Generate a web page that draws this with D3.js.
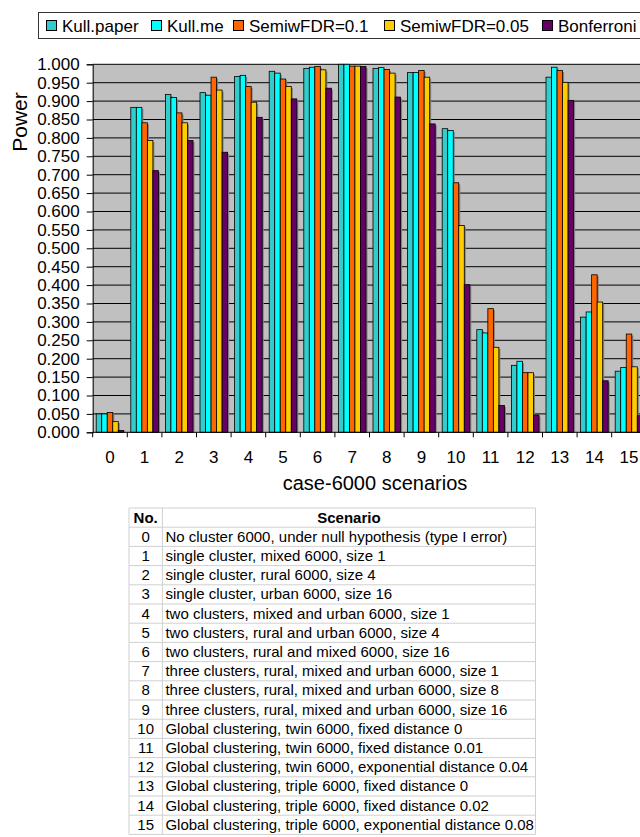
<!DOCTYPE html>
<html>
<head>
<meta charset="utf-8">
<script src="https://cdn.jsdelivr.net/npm/d3@7"></script>
<style>
  html, body { margin: 0; padding: 0; background: #fff; overflow: hidden; }
  svg { display: block; font-family: "Liberation Sans", Arial, sans-serif; }
</style>
</head>
<body>
<svg id="chart" width="640" height="837"></svg>
<script>
// ---------- data ----------
const categories = ["0","1","2","3","4","5","6","7","8","9","10","11","12","13","14","15"];
const seriesNames = ["Kull.paper", "Kull.me", "SemiwFDR=0.1", "SemiwFDR=0.05", "Bonferroni"];
const seriesColors = ["#33CCCC", "#00FFFF", "#FF6600", "#FFCC00", "#660066"];
const kullPaper = [0.050, 0.883, 0.918, 0.923, 0.967, 0.981, 0.989, 1.000, 0.989, 0.978, 0.825, 0.279, 0.182, 0.965, 0.313, 0.166];
const kullMe    = [0.050, 0.883, 0.910, 0.916, 0.970, 0.976, 0.992, 1.000, 0.991, 0.978, 0.820, 0.270, 0.193, 0.992, 0.327, 0.176];
const semiFdr10 = [0.054, 0.841, 0.868, 0.965, 0.940, 0.960, 0.994, 0.995, 0.986, 0.983, 0.678, 0.336, 0.162, 0.983, 0.428, 0.267];
const semiFdr05 = [0.029, 0.793, 0.841, 0.930, 0.897, 0.940, 0.985, 0.995, 0.976, 0.965, 0.562, 0.231, 0.162, 0.951, 0.354, 0.178];
const bonferroni= [0.005, 0.711, 0.793, 0.761, 0.856, 0.906, 0.935, 0.994, 0.911, 0.838, 0.401, 0.073, 0.047, 0.902, 0.140, 0.045];
const yTickValues = [0,0.05,0.1,0.15,0.2,0.25,0.3,0.35,0.4,0.45,0.5,0.55,0.6,0.65,0.7,0.75,0.8,0.85,0.9,0.95,1.0];
const yAxisTitle = "Power";
const xAxisTitle = "case-6000 scenarios";
const tableHeader = ["No.", "Scenario"];
const scenarioNumbers = categories;
const scenarioTexts = [
  "No cluster 6000, under null hypothesis (type I error)",
  "single cluster, mixed 6000, size 1",
  "single cluster, rural 6000, size 4",
  "single cluster, urban 6000, size 16",
  "two clusters, mixed and urban 6000, size 1",
  "two clusters, rural and urban 6000, size 4",
  "two clusters, rural and mixed 6000, size 16",
  "three clusters, rural, mixed and urban 6000, size 1",
  "three clusters, rural, mixed and urban 6000, size 8",
  "three clusters, rural, mixed and urban 6000, size 16",
  "Global clustering, twin 6000, fixed distance 0",
  "Global clustering, twin 6000, fixed distance 0.01",
  "Global clustering, twin 6000, exponential distance 0.04",
  "Global clustering, triple 6000, fixed distance 0",
  "Global clustering, triple 6000, fixed distance 0.02",
  "Global clustering, triple 6000, exponential distance 0.08"
];

const seriesValues = [kullPaper, kullMe, semiFdr10, semiFdr05, bonferroni];

// ---------- layout ----------
const svg = d3.select("#chart");
const plot = { left: 92.7, right: 646.3, top: 64.3, bottom: 432.3 };

const x0 = d3.scaleBand().domain(categories).range([plot.left, plot.right]).paddingInner(0).paddingOuter(0);
const x1 = d3.scaleBand().domain(seriesNames).range([3.5, x0.bandwidth() - 3.5]).padding(0);
const y = d3.scaleLinear().domain([0, 1]).range([plot.bottom, plot.top]);
const color = d3.scaleOrdinal().domain(seriesNames).range(seriesColors);

// plot background
svg.append("rect")
  .attr("x", plot.left).attr("y", plot.top)
  .attr("width", plot.right - plot.left).attr("height", plot.bottom - plot.top)
  .attr("fill", "#C0C0C0");

// gridlines
svg.append("g")
  .selectAll("line")
  .data(yTickValues.filter(v => v > 0))
  .join("line")
  .attr("x1", plot.left).attr("x2", plot.right)
  .attr("y1", d => y(d)).attr("y2", d => y(d))
  .attr("stroke", "#000").attr("stroke-width", 1);

// bars
const flat = [];
categories.forEach((c, i) => {
  seriesNames.forEach((s, j) => flat.push({ cat: c, series: s, value: seriesValues[j][i] }));
});

const barsG = svg.append("g");
// shadows
barsG.selectAll("rect.shadow")
  .data(flat)
  .join("rect")
  .attr("class", "shadow")
  .attr("x", d => x0(d.cat) + x1(d.series) + 1.5)
  .attr("y", d => y(d.value) + 1.5)
  .attr("width", x1.bandwidth())
  .attr("height", d => Math.max(0, y(0) - y(d.value) - 1.5))
  .attr("fill", "#808080");
barsG.selectAll("rect.bar")
  .data(flat)
  .join("rect")
  .attr("class", "bar")
  .attr("x", d => x0(d.cat) + x1(d.series))
  .attr("y", d => y(d.value))
  .attr("width", x1.bandwidth())
  .attr("height", d => y(0) - y(d.value))
  .attr("fill", d => color(d.series))
  .attr("stroke", "#000")
  .attr("stroke-width", 0.8);

// y axis
const yAxis = d3.axisLeft(y).tickValues(yTickValues).tickFormat(d3.format(".3f")).tickSize(6).tickPadding(7);
const gy = svg.append("g").attr("transform", `translate(${plot.left},0)`).call(yAxis);
gy.select(".domain").attr("stroke", "#000");
gy.selectAll(".tick line").attr("stroke", "#000");
gy.selectAll("text").attr("font-size", 17).attr("fill", "#000").attr("font-family", "Liberation Sans, Arial, sans-serif");

// x axis with ticks at category boundaries
const gx = svg.append("g").attr("transform", `translate(0,${plot.bottom})`);
gx.append("line").attr("x1", plot.left).attr("x2", plot.right).attr("y1", 0).attr("y2", 0).attr("stroke", "#000");
gx.selectAll("line.tk")
  .data(categories)
  .join("line")
  .attr("class", "tk")
  .attr("x1", d => x0(d)).attr("x2", d => x0(d))
  .attr("y1", 0).attr("y2", 5)
  .attr("stroke", "#000");
gx.selectAll("text")
  .data(categories)
  .join("text")
  .attr("x", d => x0(d) + x0.bandwidth() / 2)
  .attr("y", 31)
  .attr("text-anchor", "middle")
  .attr("font-size", 17)
  .attr("fill", "#000")
  .text(d => d);

// axis titles
svg.append("text")
  .attr("transform", "translate(27,122) rotate(-90)")
  .attr("text-anchor", "middle")
  .attr("font-size", 21)
  .attr("fill", "#000")
  .text(yAxisTitle);
svg.append("text")
  .attr("x", 375).attr("y", 490)
  .attr("text-anchor", "middle")
  .attr("font-size", 20)
  .attr("fill", "#000")
  .text(xAxisTitle);

// legend
const legendX = [46, 151, 233, 384, 542];
const lg = svg.append("g");
lg.append("rect").attr("x", 38.5).attr("y", 12.5).attr("width", 640).attr("height", 26)
  .attr("fill", "#fff").attr("stroke", "#333").attr("stroke-width", 1);
const items = lg.selectAll("g.item").data(seriesNames).join("g").attr("class", "item")
  .attr("transform", (d, i) => `translate(${legendX[i]},0)`);
items.append("rect").attr("x", 0.5).attr("y", 20.5).attr("width", 10).attr("height", 10)
  .attr("fill", d => color(d)).attr("stroke", "#000").attr("stroke-width", 1);
items.append("text").attr("x", 16).attr("y", 31.5).attr("font-size", 17).attr("fill", "#000").text(d => d);

// table
const tbl = { left: 129, mid: 162.4, right: 535.5, top: 508, rowH: 19.2 };
const tg = svg.append("g");
const nRows = scenarioTexts.length + 1;
tg.selectAll("line.h")
  .data(d3.range(nRows + 1))
  .join("line")
  .attr("class", "h")
  .attr("x1", tbl.left).attr("x2", tbl.right)
  .attr("y1", i => tbl.top + i * tbl.rowH).attr("y2", i => tbl.top + i * tbl.rowH)
  .attr("stroke", "#D0D0D0").attr("stroke-width", 1);
tg.selectAll("line.v")
  .data([tbl.left, tbl.mid, tbl.right])
  .join("line")
  .attr("class", "v")
  .attr("x1", d => d).attr("x2", d => d)
  .attr("y1", tbl.top).attr("y2", tbl.top + nRows * tbl.rowH)
  .attr("stroke", "#D0D0D0").attr("stroke-width", 1);
tg.append("text").attr("x", (tbl.left + tbl.mid) / 2).attr("y", tbl.top + tbl.rowH / 2 + 5)
  .attr("text-anchor", "middle").attr("font-size", 15).attr("font-weight", "bold").text(tableHeader[0]);
tg.append("text").attr("x", (tbl.mid + tbl.right) / 2).attr("y", tbl.top + tbl.rowH / 2 + 5)
  .attr("text-anchor", "middle").attr("font-size", 15).attr("font-weight", "bold").text(tableHeader[1]);
tg.selectAll("text.num")
  .data(scenarioNumbers)
  .join("text")
  .attr("class", "num")
  .attr("x", (tbl.left + tbl.mid) / 2)
  .attr("y", (d, i) => tbl.top + (i + 1) * tbl.rowH + tbl.rowH / 2 + 5)
  .attr("text-anchor", "middle").attr("font-size", 15).text(d => d);
tg.selectAll("text.sc")
  .data(scenarioTexts)
  .join("text")
  .attr("class", "sc")
  .attr("x", tbl.mid + 3)
  .attr("y", (d, i) => tbl.top + (i + 1) * tbl.rowH + tbl.rowH / 2 + 5)
  .attr("font-size", 15).text(d => d)
  .each(function() {
    const w = this.getComputedTextLength();
    const maxW = tbl.right - tbl.mid - 4;
    if (w > maxW) d3.select(this).attr("textLength", maxW).attr("lengthAdjust", "spacing");
  });
</script>
</body>
</html>
